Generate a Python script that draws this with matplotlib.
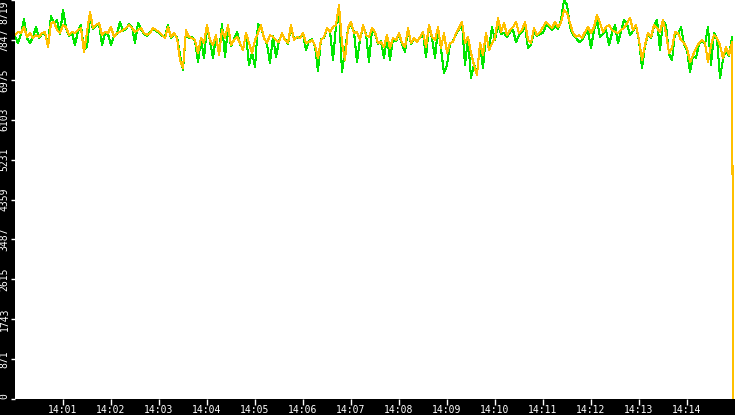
import matplotlib
matplotlib.use("Agg")
import matplotlib.pyplot as plt
import numpy as np

# ---- data ----
step_seconds = 3.75
orange_vals = [
    7954,8019,7997,8128,7910,7997,7888,7954,7910,7997,8019,7691,8216,8238,8063,7997,8172,8128,7954,8019,
    7997,8063,8107,7582,8019,8457,8107,8172,8216,7954,8019,7997,8128,7910,7997,8019,8063,8107,8172,8107,
    8019,8063,8107,7997,7954,7997,8107,8063,8019,7954,7888,8128,7910,7997,7888,7407,7232,8063,7910,7888,
    7844,7560,7888,7779,8172,7844,7735,7954,7516,8063,7888,8172,7735,7844,7910,7779,7626,7997,7779,7560,
    7844,7997,8172,7888,7779,7954,7910,7844,7800,7997,7844,7779,8172,7844,7910,7888,7997,7779,7800,7844,
    7735,7451,7844,7910,8107,8019,8128,8172,8610,7779,7407,8107,8238,7997,8019,7844,8172,7954,7910,8107,
    8019,7779,7800,7691,7954,7669,7888,7844,7997,7779,7691,8107,7779,7888,7800,7910,8019,7691,8172,7910,
    7844,8128,7669,7997,7560,7779,7800,7997,8107,8238,7779,7910,7560,7297,7079,7779,7516,7997,7626,7779,
    7888,8325,8019,8216,7954,8063,8128,8238,7997,8063,8238,7844,7779,8107,7954,8019,8128,8238,8172,8107,
    8238,8128,8216,8500,8435,8216,7997,7910,7954,7888,8019,8128,7997,8128,8391,8216,8019,8128,8172,8063,
    8019,7997,8063,8107,8216,8325,8063,8172,7844,7407,7735,7997,7910,8172,8107,8019,8282,7997,7560,7669,
    8019,7997,7844,7779,7669,7363,7516,7669,7779,7844,7779,7363,7735,7954,7888,7735,7451,7691,7516,7800,
]
orange_end_time = 898.0
orange_end_value = 0

green_vals = [
    7932,7779,7975,8303,7888,7779,7910,8128,7888,7975,7997,7757,8369,8216,8282,7975,8500,8107,7932,7997,
    7735,8041,8172,7626,7691,8325,8085,8150,8194,7735,7997,7975,7735,7932,7975,8238,8041,8085,8194,8128,
    7779,8216,8085,7975,7932,8019,8085,8041,7997,7932,7910,8172,7888,7975,7910,7516,7188,8041,7888,7910,
    7822,7363,7866,7451,8128,7822,7451,7932,7538,8194,7472,8128,7713,7866,8019,7757,7647,7975,7297,7582,
    7254,8194,8128,7910,7757,7341,7932,7472,7822,7975,7866,7757,8128,7866,7888,7910,7975,7626,7822,7866,
    7713,7166,7866,7888,8085,8041,7407,8150,8457,7144,7626,8085,8194,8019,7363,7866,8128,7975,7363,8063,
    7997,7757,7822,7451,7932,7407,7866,7822,7975,7757,7582,8085,7757,7866,7822,7888,7997,7472,8150,7888,
    7451,8107,7647,7122,7297,7757,7822,7975,8085,8216,7297,7888,7013,7319,7101,7757,7232,7975,7647,8128,
    7844,8172,7975,7997,7910,8019,8063,7800,7954,8019,8150,7669,7735,8019,7932,7975,7997,8172,8128,8063,
    8150,8085,8282,8719,8610,8128,7954,7888,7800,7844,7975,8041,7669,8063,8282,7910,7975,8063,7735,7997,
    8172,7779,8041,8282,8194,7954,8041,8150,7822,7232,7713,7975,7888,8150,8282,7626,8260,8172,7538,7407,
    7997,7975,8128,7757,7626,7144,7494,7451,7757,7822,7757,8128,7297,7997,7866,7013,7429,7626,7494,7910,
]

y_ticks = [0, 871, 1743, 2615, 3487, 4359, 5231, 6103, 6975, 7847, 8719]
x_tick_seconds = [60, 120, 180, 240, 300, 360, 420, 480, 540, 600, 660, 720, 780, 840]
x_tick_labels = ["14:01", "14:02", "14:03", "14:04", "14:05", "14:06", "14:07",
                 "14:08", "14:09", "14:10", "14:11", "14:12", "14:13", "14:14"]

# ---- drawing ----
t = np.arange(len(orange_vals)) * step_seconds
t_orange = np.append(t, orange_end_time)
v_orange = np.append(orange_vals, orange_end_value)
t_green = np.arange(len(green_vals)) * step_seconds

W, H = 735, 415
fig = plt.figure(figsize=(W / 100, H / 100), dpi=100, facecolor="black")
ax = fig.add_axes([15 / W, 16 / H, 720 / W, 399 / H])
ax.set_facecolor("white")

ax.plot(t_green, green_vals, color="#00e600", lw=0.75, antialiased=False)
ax.plot(t_orange, v_orange, color="#ffc000", lw=0.75, antialiased=False)

ax.set_xlim(0, 900)
ax.set_ylim(0, 8719)
for s in ax.spines.values():
    s.set_visible(False)

mono = "DejaVu Sans Mono"
ax.set_yticks(y_ticks)
ax.set_yticklabels([str(v) for v in y_ticks], rotation=90, va="center",
                   family=mono, fontsize=7, color="white")
labels = ax.get_yticklabels()
labels[-1].set_va("top")
labels[0].set_va("bottom")
ax.tick_params(axis="y", colors="white", length=3, width=1, pad=1)

ax.set_xticks(x_tick_seconds)
ax.set_xticklabels(x_tick_labels, family=mono, fontsize=7, color="white")
ax.tick_params(axis="x", colors="white", length=4, width=1, pad=0.5)

fig.savefig("out.png", dpi=100, facecolor="black")
